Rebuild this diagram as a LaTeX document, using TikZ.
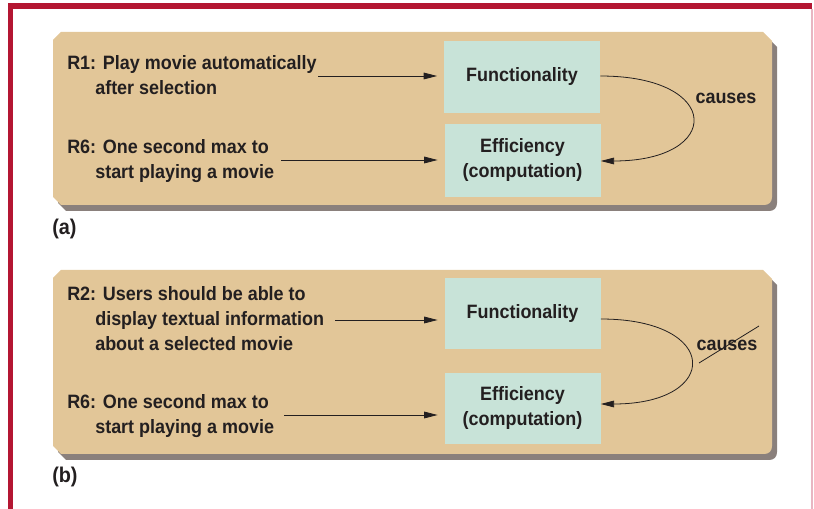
\documentclass[tikz,border=0pt]{standalone}
\usepackage{fontspec}
\setmainfont{Liberation Sans}[FakeStretch=0.93]
\usetikzlibrary{arrows.meta}
\definecolor{framered}{RGB}{180,22,50}
\definecolor{framepink}{RGB}{232,182,194}
\definecolor{panelfill}{RGB}{226,198,152}
\definecolor{panelshadow}{RGB}{138,128,124}
\definecolor{boxfill}{RGB}{200,227,216}
\definecolor{ink}{RGB}{35,31,32}
\tikzset{
  lbl/.style={font=\fontsize{14.5pt}{18.75pt}\selectfont\bfseries, text=ink, inner sep=0pt},
  req/.style={lbl, align=left, anchor=base west},% base = baseline of the last line
  qbox/.style={lbl, fill=boxfill, align=center, minimum width=117pt, inner sep=0pt},
  tag/.style={lbl, font=\fontsize{16pt}{18pt}\selectfont\bfseries, anchor=west},
  arr/.style={draw=ink, line width=0.6pt, -{Triangle[length=10pt,width=5pt]}},
}
% panel outline: chamfered corners except the lower right one, which is rounded
\newcommand{\panelpath}[4]{% x0 y0 x1 y1
  (#1,#2+8) -- (#1+8,#2) -- (#3-9,#2) -- (#3,#2+9) -- (#3,#4-8)
  .. controls (#3,#4-3) and (#3-3,#4) .. (#3-8,#4) -- (#1+8,#4) -- (#1,#4-8) -- cycle}
\begin{document}
\begin{tikzpicture}[x=0.75pt,y=-0.75pt]
\useasboundingbox (0,0) rectangle (814,509);
% outer frame
\fill[framered] (8.3,3.3) rectangle (812,9);
\fill[framered] (8.3,3.3) rectangle (13.3,509);
\draw[framepink, line width=1.1pt] (812,9) -- (812,509);

% ---------- panel (a) ----------
\fill[panelshadow] \panelpath{58}{38}{777}{211};
\fill[panelfill] \panelpath{53}{32}{772}{205};
\node[qbox, minimum height=54pt] (fa) at (522,77) {Functionality};
\node[qbox, minimum height=54.75pt] (ea) at (522.5,160.5) {Efficiency\\(computation)};
\node[req] (r1) at (67,95) {R1: Play movie automatically\\\hspace{21pt}after selection};
\node[req] (r6a) at (67,178.5) {R6: One second max to\\\hspace{21pt}start playing a movie};
\coordinate (r1s) at (318,76);
\coordinate (r6as) at (281,160);
\draw[arr, shorten >=5pt] (r1s) -- (r1s -| fa.west);
\draw[arr, shorten >=5pt] (r6as) -- (r6as -| ea.west);
\draw[arr] (fa.east |- 0,76) .. controls (723,76) and (723,161) .. (ea.east |- 0,161);
\node[lbl] (ca) at (726,98) {causes};
\node[tag] (la) at (52,229) {(a)};

% ---------- panel (b) ----------
\fill[panelshadow] \panelpath{58}{276}{777}{460};
\fill[panelfill] \panelpath{53}{270}{772}{454};
\node[qbox, minimum height=53.25pt] (fb) at (522.5,313.5) {Functionality};
\node[qbox, minimum height=53.25pt] (eb) at (522.5,408.5) {Efficiency\\(computation)};
\node[req] (r2) at (67,350.5) {R2: Users should be able to\\\hspace{21pt}display textual information\\\hspace{21pt}about a selected movie};
\node[req] (r6b) at (67,434) {R6: One second max to\\\hspace{21pt}start playing a movie};
\coordinate (r2s) at (335,320);
\coordinate (r6bs) at (284,415);
\draw[arr, shorten >=5pt] (r2s) -- (r2s -| fb.west);
\draw[arr, shorten >=5pt] (r6bs) -- (r6bs -| eb.west);
\draw[arr] (fb.east |- 0,319) .. controls (721,319) and (721,404) .. (eb.east |- 0,404);
\node[lbl] (cb) at (727,345) {causes};
\coordinate (sa) at (699,363);
\coordinate (sb) at (759,326);
\draw[ink, line width=0.6pt] (sa) -- (sb);
\node[tag] (lb) at (52,477) {(b)};
\end{tikzpicture}
\end{document}
